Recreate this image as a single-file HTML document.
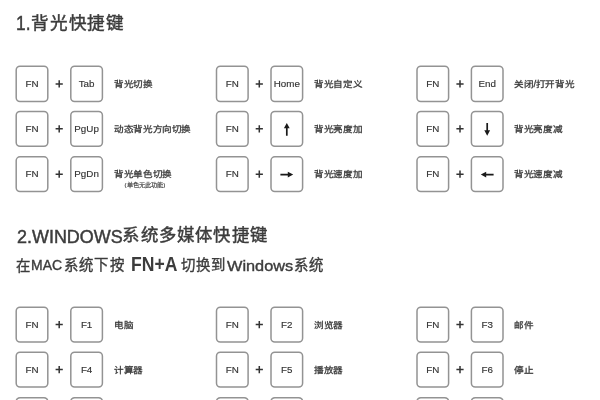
<!DOCTYPE html>
<html lang="zh-CN"><head><meta charset="utf-8">
<style>
*{margin:0;padding:0;box-sizing:border-box}
html,body{width:600px;height:400px;background:#fff;overflow:hidden;position:relative;font-family:"Liberation Sans",sans-serif;color:#333}
svg{position:absolute;left:0;top:0}
.t{position:absolute;white-space:nowrap;line-height:1;color:#3c3c3c;transform-origin:0 0;-webkit-text-stroke:0.45px #3c3c3c}
.kt{position:absolute;width:33.2px;display:flex;align-items:center;justify-content:center;font-size:9.8px;color:#333;line-height:1;-webkit-text-stroke:0.15px #333}
.l{position:absolute;font-size:9.6px;letter-spacing:-0.400px;color:#383838;white-space:nowrap;line-height:1;-webkit-text-stroke:0.3px #383838;transform:scaleY(0.86);transform-origin:0 50%}
#w{position:absolute;left:0;top:0;width:600px;height:400px;filter:blur(0.55px)}
</style></head><body><div id="w">
<svg width="600" height="400" viewBox="0 0 600 400">
<rect x="16.20" y="66.20" width="31.60" height="35.40" rx="3.8" fill="none" stroke="#939393" stroke-width="1.5"/>
<rect x="70.80" y="66.20" width="31.60" height="35.40" rx="3.8" fill="none" stroke="#939393" stroke-width="1.5"/>
<path d="M55.60 83.90H62.80M59.20 80.30V87.50" stroke="#333" stroke-width="1.5"/>
<rect x="216.50" y="66.20" width="31.60" height="35.40" rx="3.8" fill="none" stroke="#939393" stroke-width="1.5"/>
<rect x="271.00" y="66.20" width="31.60" height="35.40" rx="3.8" fill="none" stroke="#939393" stroke-width="1.5"/>
<path d="M255.70 83.90H262.90M259.30 80.30V87.50" stroke="#333" stroke-width="1.5"/>
<rect x="417.00" y="66.20" width="31.60" height="35.40" rx="3.8" fill="none" stroke="#939393" stroke-width="1.5"/>
<rect x="471.40" y="66.20" width="31.60" height="35.40" rx="3.8" fill="none" stroke="#939393" stroke-width="1.5"/>
<path d="M456.40 83.90H463.60M460.00 80.30V87.50" stroke="#333" stroke-width="1.5"/>
<rect x="16.20" y="111.40" width="31.60" height="34.90" rx="3.8" fill="none" stroke="#939393" stroke-width="1.5"/>
<rect x="70.80" y="111.40" width="31.60" height="34.90" rx="3.8" fill="none" stroke="#939393" stroke-width="1.5"/>
<path d="M55.60 128.85H62.80M59.20 125.25V132.45" stroke="#333" stroke-width="1.5"/>
<rect x="216.50" y="111.40" width="31.60" height="34.90" rx="3.8" fill="none" stroke="#939393" stroke-width="1.5"/>
<rect x="271.00" y="111.40" width="31.60" height="34.90" rx="3.8" fill="none" stroke="#939393" stroke-width="1.5"/>
<path d="M255.70 128.85H262.90M259.30 125.25V132.45" stroke="#333" stroke-width="1.5"/>
<path d="M286.80 122.95 L289.70 128.35 L287.65 128.35 L287.65 135.75 L285.95 135.75 L285.95 128.35 L283.90 128.35 Z" fill="#1a1a1a"/>
<rect x="417.00" y="111.40" width="31.60" height="34.90" rx="3.8" fill="none" stroke="#939393" stroke-width="1.5"/>
<rect x="471.40" y="111.40" width="31.60" height="34.90" rx="3.8" fill="none" stroke="#939393" stroke-width="1.5"/>
<path d="M456.40 128.85H463.60M460.00 125.25V132.45" stroke="#333" stroke-width="1.5"/>
<path d="M487.20 135.75 L490.10 130.35 L488.05 130.35 L488.05 122.95 L486.35 122.95 L486.35 130.35 L484.30 130.35 Z" fill="#1a1a1a"/>
<rect x="16.20" y="156.80" width="31.60" height="34.70" rx="3.8" fill="none" stroke="#939393" stroke-width="1.5"/>
<rect x="70.80" y="156.80" width="31.60" height="34.70" rx="3.8" fill="none" stroke="#939393" stroke-width="1.5"/>
<path d="M55.60 174.15H62.80M59.20 170.55V177.75" stroke="#333" stroke-width="1.5"/>
<rect x="216.50" y="156.80" width="31.60" height="34.70" rx="3.8" fill="none" stroke="#939393" stroke-width="1.5"/>
<rect x="271.00" y="156.80" width="31.60" height="34.70" rx="3.8" fill="none" stroke="#939393" stroke-width="1.5"/>
<path d="M255.70 174.15H262.90M259.30 170.55V177.75" stroke="#333" stroke-width="1.5"/>
<path d="M293.20 174.55 L287.80 171.65 L287.80 173.70 L280.40 173.70 L280.40 175.40 L287.80 175.40 L287.80 177.45 Z" fill="#1a1a1a"/>
<rect x="417.00" y="156.80" width="31.60" height="34.70" rx="3.8" fill="none" stroke="#939393" stroke-width="1.5"/>
<rect x="471.40" y="156.80" width="31.60" height="34.70" rx="3.8" fill="none" stroke="#939393" stroke-width="1.5"/>
<path d="M456.40 174.15H463.60M460.00 170.55V177.75" stroke="#333" stroke-width="1.5"/>
<path d="M480.80 174.55 L486.20 171.65 L486.20 173.70 L493.60 173.70 L493.60 175.40 L486.20 175.40 L486.20 177.45 Z" fill="#1a1a1a"/>
<rect x="16.20" y="307.20" width="31.60" height="34.80" rx="3.8" fill="none" stroke="#939393" stroke-width="1.5"/>
<rect x="70.80" y="307.20" width="31.60" height="34.80" rx="3.8" fill="none" stroke="#939393" stroke-width="1.5"/>
<path d="M55.60 324.60H62.80M59.20 321.00V328.20" stroke="#333" stroke-width="1.5"/>
<rect x="216.50" y="307.20" width="31.60" height="34.80" rx="3.8" fill="none" stroke="#939393" stroke-width="1.5"/>
<rect x="271.00" y="307.20" width="31.60" height="34.80" rx="3.8" fill="none" stroke="#939393" stroke-width="1.5"/>
<path d="M255.70 324.60H262.90M259.30 321.00V328.20" stroke="#333" stroke-width="1.5"/>
<rect x="417.00" y="307.20" width="31.60" height="34.80" rx="3.8" fill="none" stroke="#939393" stroke-width="1.5"/>
<rect x="471.40" y="307.20" width="31.60" height="34.80" rx="3.8" fill="none" stroke="#939393" stroke-width="1.5"/>
<path d="M456.40 324.60H463.60M460.00 321.00V328.20" stroke="#333" stroke-width="1.5"/>
<rect x="16.20" y="352.20" width="31.60" height="34.80" rx="3.8" fill="none" stroke="#939393" stroke-width="1.5"/>
<rect x="70.80" y="352.20" width="31.60" height="34.80" rx="3.8" fill="none" stroke="#939393" stroke-width="1.5"/>
<path d="M55.60 369.60H62.80M59.20 366.00V373.20" stroke="#333" stroke-width="1.5"/>
<rect x="216.50" y="352.20" width="31.60" height="34.80" rx="3.8" fill="none" stroke="#939393" stroke-width="1.5"/>
<rect x="271.00" y="352.20" width="31.60" height="34.80" rx="3.8" fill="none" stroke="#939393" stroke-width="1.5"/>
<path d="M255.70 369.60H262.90M259.30 366.00V373.20" stroke="#333" stroke-width="1.5"/>
<rect x="417.00" y="352.20" width="31.60" height="34.80" rx="3.8" fill="none" stroke="#939393" stroke-width="1.5"/>
<rect x="471.40" y="352.20" width="31.60" height="34.80" rx="3.8" fill="none" stroke="#939393" stroke-width="1.5"/>
<path d="M456.40 369.60H463.60M460.00 366.00V373.20" stroke="#333" stroke-width="1.5"/>
<rect x="16.20" y="397.70" width="31.60" height="34.80" rx="3.8" fill="none" stroke="#939393" stroke-width="1.5"/>
<rect x="70.80" y="397.70" width="31.60" height="34.80" rx="3.8" fill="none" stroke="#939393" stroke-width="1.5"/>
<path d="M55.60 415.10H62.80M59.20 411.50V418.70" stroke="#333" stroke-width="1.5"/>
<rect x="216.50" y="397.70" width="31.60" height="34.80" rx="3.8" fill="none" stroke="#939393" stroke-width="1.5"/>
<rect x="271.00" y="397.70" width="31.60" height="34.80" rx="3.8" fill="none" stroke="#939393" stroke-width="1.5"/>
<path d="M255.70 415.10H262.90M259.30 411.50V418.70" stroke="#333" stroke-width="1.5"/>
<rect x="417.00" y="397.70" width="31.60" height="34.80" rx="3.8" fill="none" stroke="#939393" stroke-width="1.5"/>
<rect x="471.40" y="397.70" width="31.60" height="34.80" rx="3.8" fill="none" stroke="#939393" stroke-width="1.5"/>
<path d="M456.40 415.10H463.60M460.00 411.50V418.70" stroke="#333" stroke-width="1.5"/>
</svg>
<div class="kt" style="left:15.4px;top:65.4px;height:37.0px">FN</div>
<div class="kt" style="left:70.0px;top:65.4px;height:37.0px">Tab</div>
<div class="l" id="lt00" style="left:114.3px;top:79.10px">背光切换</div>
<div class="kt" style="left:215.7px;top:65.4px;height:37.0px">FN</div>
<div class="kt" style="left:270.2px;top:65.4px;height:37.0px">Home</div>
<div class="l" id="lt01" style="left:314.3px;top:79.10px">背光自定义</div>
<div class="kt" style="left:416.2px;top:65.4px;height:37.0px">FN</div>
<div class="kt" style="left:470.6px;top:65.4px;height:37.0px">End</div>
<div class="l" id="lt02" style="left:514.3000000000001px;top:79.10px">关闭/打开背光</div>
<div class="kt" style="left:15.4px;top:110.6px;height:36.5px">FN</div>
<div class="kt" style="left:70.0px;top:110.6px;height:36.5px">PgUp</div>
<div class="l" id="lt10" style="left:114.3px;top:124.05px">动态背光方向切换</div>
<div class="kt" style="left:215.7px;top:110.6px;height:36.5px">FN</div>
<div class="l" id="lt11" style="left:314.3px;top:124.05px">背光亮度加</div>
<div class="kt" style="left:416.2px;top:110.6px;height:36.5px">FN</div>
<div class="l" id="lt12" style="left:514.3000000000001px;top:124.05px">背光亮度减</div>
<div class="kt" style="left:15.4px;top:156.0px;height:36.3px">FN</div>
<div class="kt" style="left:70.0px;top:156.0px;height:36.3px">PgDn</div>
<div class="l" id="lt20" style="left:114.3px;top:169.35px">背光单色切换</div>
<div class="kt" style="left:215.7px;top:156.0px;height:36.3px">FN</div>
<div class="l" id="lt21" style="left:314.3px;top:169.35px">背光速度加</div>
<div class="kt" style="left:416.2px;top:156.0px;height:36.3px">FN</div>
<div class="l" id="lt22" style="left:514.3000000000001px;top:169.35px">背光速度减</div>
<div class="kt" style="left:15.4px;top:306.4px;height:36.4px">FN</div>
<div class="kt" style="left:70.0px;top:306.4px;height:36.4px">F1</div>
<div class="l" id="lb00" style="left:114.3px;top:319.80px">电脑</div>
<div class="kt" style="left:215.7px;top:306.4px;height:36.4px">FN</div>
<div class="kt" style="left:270.2px;top:306.4px;height:36.4px">F2</div>
<div class="l" id="lb01" style="left:314.3px;top:319.80px">浏览器</div>
<div class="kt" style="left:416.2px;top:306.4px;height:36.4px">FN</div>
<div class="kt" style="left:470.6px;top:306.4px;height:36.4px">F3</div>
<div class="l" id="lb02" style="left:514.3000000000001px;top:319.80px">邮件</div>
<div class="kt" style="left:15.4px;top:351.4px;height:36.4px">FN</div>
<div class="kt" style="left:70.0px;top:351.4px;height:36.4px">F4</div>
<div class="l" id="lb10" style="left:114.3px;top:364.80px">计算器</div>
<div class="kt" style="left:215.7px;top:351.4px;height:36.4px">FN</div>
<div class="kt" style="left:270.2px;top:351.4px;height:36.4px">F5</div>
<div class="l" id="lb11" style="left:314.3px;top:364.80px">播放器</div>
<div class="kt" style="left:416.2px;top:351.4px;height:36.4px">FN</div>
<div class="kt" style="left:470.6px;top:351.4px;height:36.4px">F6</div>
<div class="l" id="lb12" style="left:514.3000000000001px;top:364.80px">停止</div>
<div class="t" id="t1a" style="left:15.60px;top:12.70px;font-size:20.78px;transform:scale(0.8351,1.0000)">1.</div>
<div class="t" id="t1b" style="left:30.79px;top:15.33px;font-size:17.60px;letter-spacing:0.900px">背光快捷键</div>
<div class="t" id="t2a" style="left:16.90px;top:228.55px;font-size:17.75px;transform:scale(1.0114,1.0000)">2.WINDOWS</div>
<div class="t" id="t2b" style="left:122.41px;top:227.45px;font-size:17.40px;letter-spacing:1.200px">系统多媒体快捷键</div>
<div class="t" id="s1" style="left:16.39px;top:258.54px;font-size:14.40px;-webkit-text-stroke:0.35px currentColor;letter-spacing:0.800px">在</div>
<div class="t" id="s2" style="left:31.48px;top:257.32px;font-size:15.33px;transform:scale(0.9110,1.0000);-webkit-text-stroke:0.4px currentColor">MAC</div>
<div class="t" id="s3" style="left:64.28px;top:258.44px;font-size:14.40px;-webkit-text-stroke:0.35px currentColor;letter-spacing:1.100px">系统下按</div>
<div class="t" id="s4" style="left:131.06px;top:254.11px;font-size:20.60px;transform:scale(0.8536,1.0000);-webkit-text-stroke:0px currentColor;font-weight:bold">FN+A</div>
<div class="t" id="s5" style="left:181.45px;top:258.44px;font-size:14.40px;-webkit-text-stroke:0.35px currentColor;letter-spacing:0.800px">切换到</div>
<div class="t" id="s6" style="left:227.20px;top:257.94px;font-size:15.43px;transform:scale(1.0578,1.0000);-webkit-text-stroke:0.4px currentColor">Windows</div>
<div class="t" id="s7" style="left:294.37px;top:258.28px;font-size:14.40px;-webkit-text-stroke:0.35px currentColor;letter-spacing:0.800px">系统</div>
<div class="t" id="sm" style="left:124.50px;top:181.60px;font-size:6.20px;-webkit-text-stroke:0.15px currentColor;letter-spacing:0.100px">(单色无此功能)</div>
</div></body></html>
